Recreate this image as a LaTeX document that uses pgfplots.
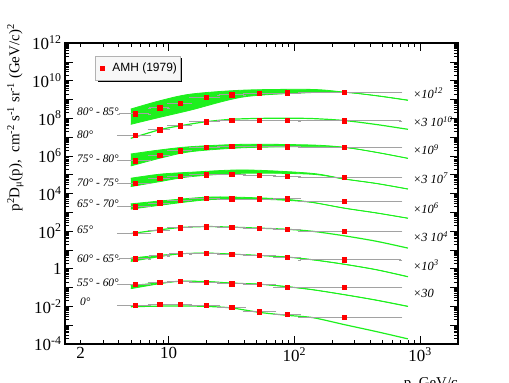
\documentclass[border=0pt]{standalone}
\usepackage{fontspec}
\setmainfont{Liberation Serif}
\newfontfamily\sansf{Liberation Sans}
\usepackage{pgfplots}
\usepackage{pgfplotstable}
\usepgfplotslibrary{fillbetween}
\usetikzlibrary{shadows}
\pgfplotsset{compat=1.18}
\definecolor{fitgreen}{HTML}{1EF01E}
\definecolor{ebar}{HTML}{A2A2A2}

% AMH (1979) points, shown scaled as in the figure; ep/em = bin edges
\pgfplotstableread{
p    ep   em   s1     s2     s3     s4     s5     s6    s7    s8     s9
5.4  1.6  1.4  1.73e8 1.29e7 5.56e5 3.52e4 2.02e3 78.3  3.40  0.147  0.0119
8.5  1.5  1.5  3.61e8 2.45e7 1.12e6 6.48e4 3.17e3 117   4.90  0.187  0.0134
12.4 2.6  2.4  6.40e8 4.00e7 1.89e6 8.28e4 4.57e3 155   6.25  0.222  0.0134
19.8 5.2  4.8  1.29e9 6.52e7 2.96e6 1.01e5 5.63e3 175   6.81  0.197  0.0119
31.7 8.3  6.7  1.77e9 7.74e7 3.23e6 1.10e5 5.17e3 163   6.03  0.160  0.00885
52.6 17.4 12.6 2.17e9 7.74e7 3.08e6 9.36e4 5.17e3 144   5.08  0.154  0.00524
88   22   18   2.25e9 7.74e7 3.08e6 8.28e4 5.36e3 122   3.97  0.107  0.00395
250  450  140  2.37e9 7.36e7 2.96e6 7.33e4 3.91e3 100   3.00  0.107  0.00274
}\dat

\begin{document}
\begin{tikzpicture}
\begin{axis}[scale only axis, width=393bp, height=301bp,
  xmode=log, ymode=log, xmin=1.5, xmax=2000, ymin=1e-4, ymax=1e12,
  xtickten={0,1,2,3}, ytickten={-4,-3,...,12},
  xticklabel={\pgfmathtruncatemacro\ex{round(\tick/ln(10))}\ifnum\ex=1 10\else 10\textsuperscript{\ex}\fi},
  yticklabel={\pgfmathtruncatemacro\ex{round(\tick/ln(10))}\ifodd\ex\else\ifnum\ex=0 1\else 10\textsuperscript{\ex}\fi\fi},
  extra x ticks={2}, extra x tick labels={2}, extra x tick style={major tick length=0pt},
  tick label style={font=\fontsize{17}{20}\selectfont},
  major tick length=8bp, minor tick length=4bp,
  tick style={black, line width=0.5bp},
  axis line style={line width=1.1bp},
  legend style={at={(0.076,0.958)}, anchor=north west, draw=gray!60, fill=gray!6,
    font=\sansf\fontsize{12}{14}\selectfont, inner xsep=1bp, inner ysep=5bp,
    drop shadow={shadow xshift=2.5bp, shadow yshift=-2.5bp, fill=black, opacity=1}},
  legend image code/.code={\path (0bp,0bp) (14bp,0bp);
    \begin{scope}[shift={(6bp,0bp)}]\pgfuseplotmark{square*}\end{scope}},
  legend cell align=left, clip=true]

% 80-85 band
\addplot[name path=u1, fitgreen, line width=0.8bp, smooth, forget plot] coordinates {(5,3.08e8) (8.5,8.47e8) (15,1.92e9) (40,3.13e9) (136,3.41e9) (250,2.45e9) (450,1.60e9) (800,9.24e8)};
\addplot[name path=l1, fitgreen, line width=0.8bp, smooth, forget plot] coordinates {(5,4.75e7) (8.5,1.12e8) (15,2.72e8) (40,1.38e9) (136,2.31e9) (250,2.40e9) (450,1.55e9) (800,8.9e8)};
\addplot[fitgreen, forget plot] fill between[of=u1 and l1];
% 80
\addplot[fitgreen, line width=1.2bp, smooth, forget plot] coordinates {(5,8.59e6) (8.5,2.45e7) (12.4,4.00e7) (19.8,6.52e7) (31.7,8.8e7) (52.6,9.8e7) (88,1.0e8) (140,9.6e7) (250,7.55e7) (450,4.63e7) (800,2.58e7)};
% 75-80 band
\addplot[name path=u3, fitgreen, line width=0.8bp, smooth, forget plot] coordinates {(5,1.26e6) (8.5,2.06e6) (15,3.08e6) (40,4.12e6) (136,3.79e6) (250,2.86e6) (450,1.55e6) (800,7.46e5)};
\addplot[name path=l3, fitgreen, line width=0.8bp, smooth, forget plot] coordinates {(5,2.91e5) (8.5,7.46e5) (15,1.67e6) (40,2.72e6) (136,3.08e6) (250,2.80e6) (450,1.52e6) (800,7.3e5)};
\addplot[fitgreen, forget plot] fill between[of=u3 and l3];
% 70-75 band
\addplot[name path=u4, fitgreen, line width=0.8bp, smooth, forget plot] coordinates {(5,6.48e4) (8.5,1.06e5) (15,1.35e5) (40,1.79e5) (136,1.19e5) (250,5.95e4) (450,3.44e4) (800,1.75e4)};
\addplot[name path=l4, fitgreen, line width=0.8bp, smooth, forget plot] coordinates {(5,2.32e4) (8.5,4.28e4) (15,7.88e4) (40,1.19e5) (136,1.06e5) (250,5.8e4) (450,3.36e4) (800,1.71e4)};
\addplot[fitgreen, forget plot] fill between[of=u4 and l4];
% 65-70 band
\addplot[name path=u5, fitgreen, line width=0.8bp, smooth, forget plot] coordinates {(5,2.81e3) (19.8,6.37e3) (52.6,5.85e3) (88,4.86e3) (140,3.37e3) (250,1.68e3) (450,935) (800,490)};
\addplot[name path=l5, fitgreen, line width=0.8bp, smooth, forget plot] coordinates {(5,1.47e3) (19.8,4.57e3) (52.6,4.86e3) (88,4.31e3) (140,3.30e3) (250,1.64e3) (450,912) (800,478)};
\addplot[fitgreen, forget plot] fill between[of=u5 and l5];
% 65
\addplot[fitgreen, line width=1.2bp, smooth, forget plot] coordinates {(5,74.6) (8.5,117) (12.4,155) (19.8,175) (31.7,163) (52.6,144) (88,125) (140,97.6) (250,56.3) (450,28.8) (800,12.5)};
% 60-65
\addplot[name path=u7, fitgreen, line width=0.8bp, smooth, forget plot] coordinates {(5,3.70) (8.5,5.2) (12.4,6.35) (19.8,6.9) (31.7,6.1) (52.6,5.15) (88,4.25) (140,3.05) (250,1.76) (450,0.90) (800,0.384)};
\addplot[name path=l7, fitgreen, line width=0.8bp, smooth, forget plot] coordinates {(5,2.44) (8.5,4.4) (12.4,6.15) (19.8,6.72) (31.7,5.95) (52.6,5.0) (88,4.1) (140,2.95) (250,1.70) (450,0.87) (800,0.370)};
\addplot[fitgreen, forget plot] fill between[of=u7 and l7];
% 55-60
\addplot[name path=u8, fitgreen, line width=0.8bp, smooth, forget plot] coordinates {(5,0.130) (8.5,0.178) (12.4,0.220) (19.8,0.212) (31.7,0.176) (52.6,0.153) (88,0.113) (140,0.078) (250,0.0425) (450,0.0217) (800,0.0102)};
\addplot[name path=l8, fitgreen, line width=0.8bp, smooth, forget plot] coordinates {(5,0.0869) (8.5,0.160) (12.4,0.214) (19.8,0.206) (31.7,0.172) (52.6,0.149) (88,0.109) (140,0.0755) (250,0.0411) (450,0.0209) (800,0.0098)};
\addplot[fitgreen, forget plot] fill between[of=u8 and l8];
% 0
\addplot[fitgreen, line width=1.2bp, smooth, forget plot] coordinates {(5,0.00964) (8.5,0.0103) (12.4,0.0105) (19.8,0.0100) (31.7,0.00822) (52.6,0.00481) (88,0.00334) (140,0.00252) (250,0.00107) (450,0.000455) (800,0.000187)};

% data
\pgfplotsset{datstyle/.style={only marks, mark=square*, mark size=2.2bp, red,
  error bars/.cd, x dir=both, x explicit,
  error bar style={ebar, line width=0.6bp}, error mark options={ebar, mark size=1.6bp, line width=0.5bp}}}
\addplot[datstyle] table[x=p, y=s1, x error plus=ep, x error minus=em] {\dat};
\addlegendentry{AMH (1979)}
\addplot[forget plot, datstyle] table[x=p, y=s2, x error plus=ep, x error minus=em] {\dat};
\addplot[forget plot, datstyle] table[x=p, y=s3, x error plus=ep, x error minus=em] {\dat};
\addplot[forget plot, datstyle] table[x=p, y=s4, x error plus=ep, x error minus=em] {\dat};
\addplot[forget plot, datstyle] table[x=p, y=s5, x error plus=ep, x error minus=em] {\dat};
\addplot[forget plot, datstyle] table[x=p, y=s6, x error plus=ep, x error minus=em] {\dat};
\addplot[forget plot, datstyle] table[x=p, y=s7, x error plus=ep, x error minus=em] {\dat};
\addplot[forget plot, datstyle] table[x=p, y=s8, x error plus=ep, x error minus=em] {\dat};
\addplot[forget plot, datstyle] table[x=p, y=s9, x error plus=ep, x error minus=em] {\dat};

% zenith angle labels
\begin{scope}[font=\itshape\fontsize{11.5}{13}\selectfont, inner sep=0pt]
\node[anchor=west] at (rel axis cs:0.0305,0.772) {80° - 85°};
\node[anchor=west] at (rel axis cs:0.0305,0.694) {80°};
\node[anchor=west] at (rel axis cs:0.0305,0.615) {75° - 80°};
\node[anchor=west] at (rel axis cs:0.0305,0.536) {70° - 75°};
\node[anchor=west] at (rel axis cs:0.0305,0.467) {65° - 70°};
\node[anchor=west] at (rel axis cs:0.0305,0.379) {65°};
\node[anchor=west] at (rel axis cs:0.0305,0.282) {60° - 65°};
\node[anchor=west] at (rel axis cs:0.0305,0.204) {55° - 60°};
\node[anchor=west] at (rel axis cs:0.038,0.141) {0°};
\end{scope}
% scale factors
\begin{scope}[font=\itshape\fontsize{12.5}{14}\selectfont, inner sep=0pt]
\node[anchor=west] at (rel axis cs:0.885,0.833) {×10\textsuperscript{12}};
\node[anchor=west] at (rel axis cs:0.885,0.739) {×3 10\textsuperscript{10}};
\node[anchor=west] at (rel axis cs:0.885,0.645) {×10\textsuperscript{9}};
\node[anchor=west] at (rel axis cs:0.885,0.551) {×3 10\textsuperscript{7}};
\node[anchor=west] at (rel axis cs:0.885,0.451) {×10\textsuperscript{6}};
\node[anchor=west] at (rel axis cs:0.885,0.356) {×3 10\textsuperscript{4}};
\node[anchor=west] at (rel axis cs:0.885,0.262) {×10\textsuperscript{3}};
\node[anchor=west] at (rel axis cs:0.885,0.168) {×30};
\end{scope}
\end{axis}
\node[rotate=90, anchor=north east, inner sep=0pt, font=\fontsize{15}{17}\selectfont] at (-58bp,320bp)
  {p\textsuperscript{2}D\textsubscript{μ}(p),~ cm\textsuperscript{-2} s\textsuperscript{-1} sr\textsuperscript{-1} (GeV/c)\textsuperscript{2}};
\node[anchor=north east, inner sep=0pt, font=\fontsize{15}{17}\selectfont] at (393bp,-33bp) {p, GeV/c};
\pgfresetboundingbox
\useasboundingbox (-65bp,-39bp) rectangle (444bp,344bp);
\end{tikzpicture}
\end{document}
